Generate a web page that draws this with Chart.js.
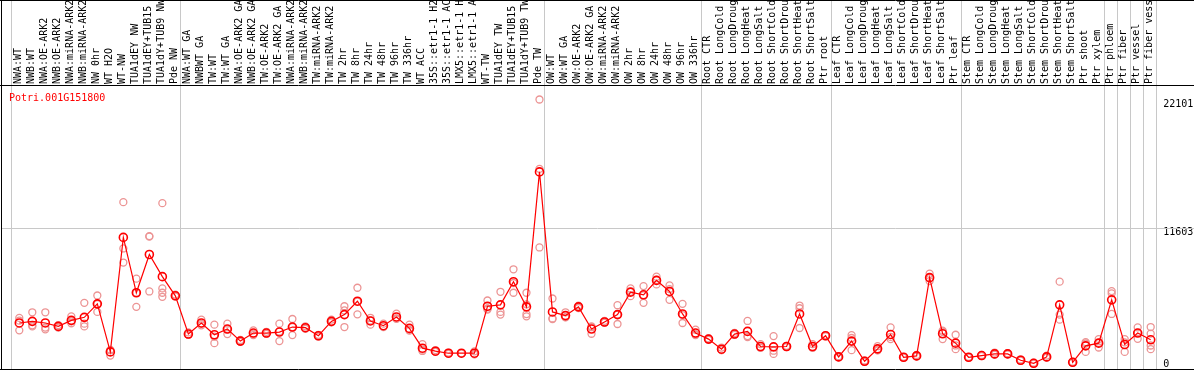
<!DOCTYPE html>
<html>
<head>
<meta charset="utf-8">
<script src="https://cdn.jsdelivr.net/npm/chart.js@4/dist/chart.umd.min.js"></script>
<style>
html, body { margin: 0; padding: 0; background: #fff; }
#wrap { width: 1194px; height: 370px; }
</style>
</head>
<body>
<div id="wrap"><canvas id="chart" width="1194" height="370"></canvas></div>
<script>
const geneName = 'Potri.001G151800';

const samples = [
    'NWA:WT', 'NWB:WT', 'NWA:OE-ARK2', 'NWB:OE-ARK2', 'NWA:miRNA-ARK2', 'NWB:miRNA-ARK2',
    'NW 0hr', 'WT H2O', 'WT-NW', 'TUA1dEY NW', 'TUA1dEY+TUB15 NW', 'TUA1dY+TUB9 NW', 'Pde NW',
    'NWA:WT GA', 'NWBWT GA', 'TW:WT', 'TW:WT GA', 'NWA:OE-ARK2 GA', 'NWB:OE-ARK2 GA',
    'TW:OE-ARK2', 'TW:OE-ARK2 GA', 'NWA:miRNA-ARK2', 'NWB:miRNA-ARK2', 'TW:miRNA-ARK2', 'TW:miRNA-ARK2',
    'TW 2hr', 'TW 8hr', 'TW 24hr', 'TW 48hr', 'TW 96hr', 'TW 336hr', 'WT ACC',
    '35S::etr1-1 H2O', '35S::etr1-1 ACC', 'LMX5::etr1-1 H2O', 'LMX5::etr1-1 ACC',
    'WT-TW', 'TUA1dEY TW', 'TUA1dEY+TUB15 TW', 'TUA1dY+TUB9 TW', 'Pde TW',
    'OW:WT', 'OW:WT GA', 'OW:OE-ARK2', 'OW:OE-ARK2 GA', 'OW:miRNA-ARK2', 'OW:miRNA-ARK2',
    'OW 2hr', 'OW 8hr', 'OW 24hr', 'OW 48hr', 'OW 96hr', 'OW 336hr',
    'Root CTR', 'Root LongCold', 'Root LongDrought', 'Root LongHeat', 'Root LongSalt',
    'Root ShortCold', 'Root ShortDrought', 'Root ShortHeat', 'Root ShortSalt', 'Ptr root',
    'Leaf CTR', 'Leaf LongCold', 'Leaf LongDrought', 'Leaf LongHeat', 'Leaf LongSalt',
    'Leaf ShortCold', 'Leaf ShortDrought', 'Leaf ShortHeat', 'Leaf ShortSalt', 'Ptr leaf',
    'Stem CTR', 'Stem LongCold', 'Stem LongDrought', 'Stem LongHeat', 'Stem LongSalt',
    'Stem ShortCold', 'Stem ShortDrought', 'Stem ShortHeat', 'Stem ShortSalt', 'Ptr shoot',
    'Ptr xylem', 'Ptr phloem', 'Ptr fiber', 'Ptr vessel', 'Ptr fiber vessel'
];

// index of the first sample of every block (grey separators)
const groupStarts = [0, 13, 41, 53, 63, 73, 84, 85, 86, 87];

const meanValues = [
    3774, 3906, 3774, 3493, 3989, 4237, 5343, 1404, 10793, 6251, 9389, 7572, 6003,
    2865, 3774, 2808, 3276, 2287, 2948, 2948, 3028, 3441, 3386, 2725, 3906,
    4459, 5558, 3939, 3551, 4270, 3328, 1707, 1459, 1294, 1294, 1294,
    5145, 5260, 7160, 5095, 16161,
    4680, 4377, 5095, 3276, 3854, 4459, 6303, 6083, 7267, 6359, 4514, 2948,
    2453, 1625, 2865, 3083, 1844, 1817, 1844, 4514, 1844, 2725,
    991, 2287, 633, 1652, 2833, 963, 1074, 7490, 2890, 2120,
    963, 1101, 1239, 1239, 716, 468, 991, 5260, 551, 1899,
    2120, 5670, 2010, 2948, 2395
];

const rep1 = [
    4187, 4650, 4650, 3600, 4320, 5425, 6028, 1569, 13683, 7407, 10900, 13600, 6100,
    3000, 4046, 3634, 3716, 2380, 3166, 3050, 3716, 4100, 3500, 2800, 4050,
    5145, 6664, 4200, 3716, 4542, 3634, 2040, 1550, 1350, 1300, 1450,
    5615, 6331, 8175, 6251, 22101,
    5781, 4650, 5200, 3500, 3950, 5230, 6606, 6799, 7572, 6854, 5343, 3221,
    2500, 1760, 2950, 3939, 2040, 2700, 1900, 5203, 2040, 2700,
    1050, 2780, 700, 1870, 3414, 1000, 1150, 7820, 3150, 2808,
    1000, 1150, 1350, 1300, 780, 520, 1100, 7160, 600, 2205,
    2453, 6386, 2453, 3414, 3441
];

const rep2 = [
    3964, 3580, 3400, 3400, 3900, 3716, 5320, 1100, 9885, 6251, 10850, 6606, 5950,
    2800, 3700, 2650, 3250, 2250, 2900, 2900, 3080, 3440, 3300, 2650, 3850,
    4800, 5530, 3634, 3500, 4150, 3200, 1600, 1400, 1250, 1280, 1220,
    4950, 4680, 7050, 5300, 9967,
    4150, 4250, 5000, 3440, 3800, 4460, 6330, 6030, 7300, 6550, 4420, 2850,
    2400, 1560, 2800, 2700, 1750, 1500, 1800, 4980, 1750, 2780,
    950, 2540, 580, 1560, 2630, 940, 1030, 7450, 3060, 1930,
    940, 1060, 1180, 1200, 680, 440, 930, 4459, 520, 2090,
    2150, 6200, 2180, 2950, 1927
];

const rep3 = [
    3170, 3490, 3250, 3480, 3750, 3493, 4680, 1540, 8729, 5095, 6359, 6251, 5960,
    2800, 3580, 2120, 2865, 2230, 2780, 2890, 2287, 2780, 3360, 2720, 3820,
    3441, 4484, 3980, 3440, 4120, 3150, 1480, 1430, 1280, 1300, 1210,
    4872, 4459, 6251, 4320, 16415,
    4100, 4230, 5080, 2890, 3810, 3689, 5973, 5425, 6937, 5670, 3774, 2780,
    2460, 1560, 2850, 2616, 1740, 1239, 1830, 3360, 1740, 2690,
    970, 1544, 620, 1530, 2453, 950, 1040, 7209, 2453, 1625,
    950, 1090, 1190, 1220, 690, 445, 940, 4046, 530, 1404,
    1762, 4514, 1404, 2477, 1625
];

// a few samples show a fourth replicate
const rep4 = samples.map(() => null);
rep4[11] = 5921;
rep4[39] = 4500;
rep4[87] = 2900;

const yTicks = [0, 11603, 22101];
const yMax = 23206;

const monoFont = 'DejaVu Sans Mono';
const repColor = '#ec9494';
const lineColor = '#ff0000';

// grey separators, mid grid line, black frame and gene name
const framePlugin = {
    id: 'frame',
    beforeDatasetsDraw(chart) {
        const { ctx, chartArea, scales, width, height } = chart;
        const xs = scales.x;
        const ys = scales.y;
        ctx.save();
        ctx.lineWidth = 1;
        ctx.strokeStyle = '#c8c8c8';
        ctx.beginPath();
        groupStarts.forEach(i => {
            const px = Math.round(xs.getPixelForValue(i) - 8) + 0.5;
            ctx.moveTo(px, 0);
            ctx.lineTo(px, chartArea.bottom);
        });
        const lastPx = Math.round(xs.getPixelForValue(samples.length - 1) + 5) + 0.5;
        ctx.moveTo(lastPx, 0);
        ctx.lineTo(lastPx, chartArea.bottom);
        const gy = Math.round(ys.getPixelForValue(yTicks[1])) + 0.5;
        ctx.moveTo(1, gy);
        ctx.lineTo(width, gy);
        ctx.stroke();

        ctx.strokeStyle = '#000';
        ctx.beginPath();
        ctx.moveTo(1.5, 0);
        ctx.lineTo(1.5, height);
        ctx.moveTo(0, 0.5);
        ctx.lineTo(width, 0.5);
        ctx.moveTo(0, chartArea.top - 0.5);
        ctx.lineTo(width, chartArea.top - 0.5);
        ctx.moveTo(0, chartArea.bottom + 0.5);
        ctx.lineTo(width, chartArea.bottom + 0.5);
        ctx.stroke();

        ctx.fillStyle = '#ff0000';
        ctx.font = '10px "' + monoFont + '"';
        ctx.textBaseline = 'alphabetic';
        ctx.textAlign = 'left';
        ctx.fillText(geneName, 9, chartArea.top + 15);
        ctx.restore();
    }
};

function repDataset(values) {
    return {
        data: values,
        showLine: false,
        pointRadius: 3.5,
        pointBorderWidth: 1.3,
        pointBorderColor: repColor,
        pointBackgroundColor: 'rgba(0,0,0,0)'
    };
}

new Chart(document.getElementById('chart'), {
    type: 'line',
    data: {
        labels: samples,
        datasets: [
            {
                data: meanValues,
                borderColor: lineColor,
                borderWidth: 1.2,
                pointRadius: 4,
                pointBorderWidth: 1.6,
                pointBorderColor: lineColor,
                pointBackgroundColor: 'rgba(0,0,0,0)',
                tension: 0
            },
            repDataset(rep1),
            repDataset(rep2),
            repDataset(rep3),
            repDataset(rep4)
        ]
    },
    options: {
        responsive: false,
        animation: false,
        devicePixelRatio: 1,
        layout: {
            autoPadding: false,
            padding: { left: 12.8, right: 0, top: 0, bottom: 1 }
        },
        plugins: {
            legend: { display: false },
            tooltip: { enabled: false },
            title: { display: false }
        },
        scales: {
            x: {
                type: 'category',
                position: 'top',
                offset: true,
                grid: { display: false, drawTicks: false },
                border: { display: false },
                ticks: {
                    autoSkip: false,
                    minRotation: 90,
                    maxRotation: 90,
                    padding: 2,
                    labelOffset: 11,
                    color: '#000',
                    font: { family: monoFont, size: 10 }
                },
                afterFit(scale) {
                    scale.height = 86;
                    scale.paddingLeft = 0;
                    scale.paddingRight = 0;
                }
            },
            y: {
                position: 'right',
                min: 0,
                max: yMax,
                afterBuildTicks(scale) {
                    scale.ticks = yTicks.map(v => ({ value: v }));
                },
                grid: { display: false, drawTicks: false },
                border: { display: false },
                ticks: {
                    padding: 6,
                    color: '#000',
                    font: { family: monoFont, size: 10, lineHeight: 1 },
                    callback(value) {
                        return value === 0 ? [String(value), ''] : ['', String(value)];
                    }
                },
                afterFit(scale) {
                    scale.width = 36.8;
                    scale.paddingTop = 0;
                    scale.paddingBottom = 0;
                }
            }
        }
    },
    plugins: [framePlugin]
});
</script>
</body>
</html>
